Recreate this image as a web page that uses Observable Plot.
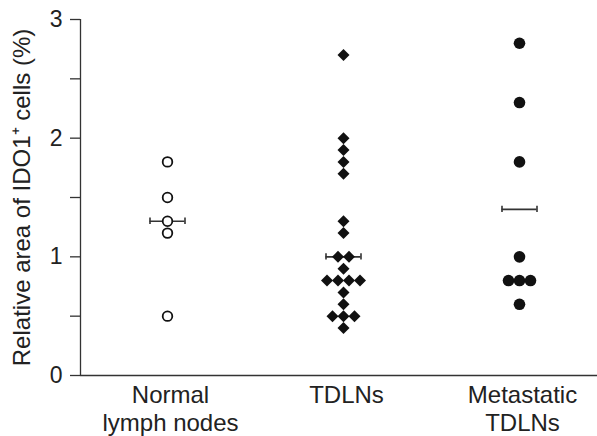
<!DOCTYPE html>
<html><head><meta charset="utf-8">
<script src="https://cdn.jsdelivr.net/npm/d3@7"></script>
<script src="https://cdn.jsdelivr.net/npm/@observablehq/plot@0.6"></script>
<style>body{margin:0;background:#fff} svg{display:block}</style>
</head><body><div id="chart"></div>
<script>
const groups = ["Normal\nlymph nodes", "TDLNs", "Metastatic\nTDLNs"];
const normalValues = [1.8, 1.5, 1.3, 1.2, 0.5];
const tdlnValues = [2.7, 2.0, 1.9, 1.8, 1.7, 1.3, 1.2, 1.0, 1.0, 0.9, 0.8, 0.8, 0.8, 0.8, 0.7, 0.6, 0.5, 0.5, 0.5, 0.4];
const metastaticValues = [2.8, 2.3, 1.8, 1.0, 0.8, 0.8, 0.8, 0.6];
const groupMeans = [1.3, 1.0, 1.4];
const majorTicks = [0, 1, 2, 3];
const minorTicks = [0.5, 1.5, 2.5];
const yLabel = "Relative area of IDO1\u207A cells (%)";

const W = 597, H = 436, mL = 80, mR = 0, mT = 19, mB = 61;
const pxPerUnit = 176, firstCenter = 167;
const xDomain = [(mL - firstCenter) / pxPerUnit, (W - mR - firstCenter) / pxPerUnit];
const tieGap = 11 / pxPerUnit;

function spread(values, gi) {
  const byVal = d3.group(values.map((v, i) => ({v, i})), d => d.v.toFixed(2));
  const out = [];
  for (const [, arr] of byVal) {
    const n = arr.length;
    arr.forEach((d, k) => out.push({x: gi + (k - (n - 1) / 2) * tieGap, y: d.v}));
  }
  return out;
}
const normalPts = spread(normalValues, 0);
const tdlnPts = spread(tdlnValues, 1);
const metaPts = spread(metastaticValues, 2);

const half = 17.5 / pxPerUnit, capH = 0.027;
const meanData = groupMeans.map((m, i) => ({i, m}));
const capData = meanData.flatMap(d => [{x: d.i - half, m: d.m}, {x: d.i + half, m: d.m}]);

const ink = "#222";
const chart = Plot.plot({
  width: W, height: H,
  marginLeft: mL, marginRight: mR, marginTop: mT, marginBottom: mB,
  style: {fontFamily: "'Liberation Sans', Arial, Helvetica, sans-serif", color: ink, background: "#fff"},
  x: {domain: xDomain},
  y: {domain: [0, 3]},
  marks: [
    Plot.ruleY([0], {stroke: "#333", strokeWidth: 1.3}),
    Plot.ruleX([xDomain[0]], {stroke: "#333", strokeWidth: 1.3}),
    Plot.axisY(majorTicks, {tickSize: 10, tickPadding: 8, fontSize: 23, stroke: "#333", strokeWidth: 1.3,
      tickFormat: d => String(d), label: null}),
    Plot.axisY(minorTicks, {tickSize: 10, tickFormat: () => "", stroke: "#333", strokeWidth: 1.3, label: null}),
    Plot.axisX([0, 1, 2], {tickSize: 0, tickPadding: 8, fontSize: 24, lineHeight: 1.15, dx: 3,
      tickFormat: i => groups[i], label: null}),
    Plot.text([yLabel], {frameAnchor: "left", rotate: -90, dx: -58, textAnchor: "middle", lineAnchor: "middle",
      fontSize: 24, fill: ink}),
    Plot.ruleY(meanData, {y: "m", x1: d => d.i - half, x2: d => d.i + half, stroke: "#333", strokeWidth: 1.6}),
    Plot.ruleX(capData, {x: "x", y1: d => d.m - capH, y2: d => d.m + capH, stroke: "#333", strokeWidth: 1.6}),
    Plot.dot(normalPts, {x: "x", y: "y", symbol: "circle", r: 4.8, stroke: "#111", strokeWidth: 1.8, fill: "#fff"}),
    Plot.dot(tdlnPts, {x: "x", y: "y", symbol: "diamond2", r: 5.4, fill: "#111", stroke: "none"}),
    Plot.dot(metaPts, {x: "x", y: "y", symbol: "circle", r: 5.8, fill: "#111", stroke: "none"})
  ]
});
document.getElementById("chart").append(chart);
</script>
</body></html>
